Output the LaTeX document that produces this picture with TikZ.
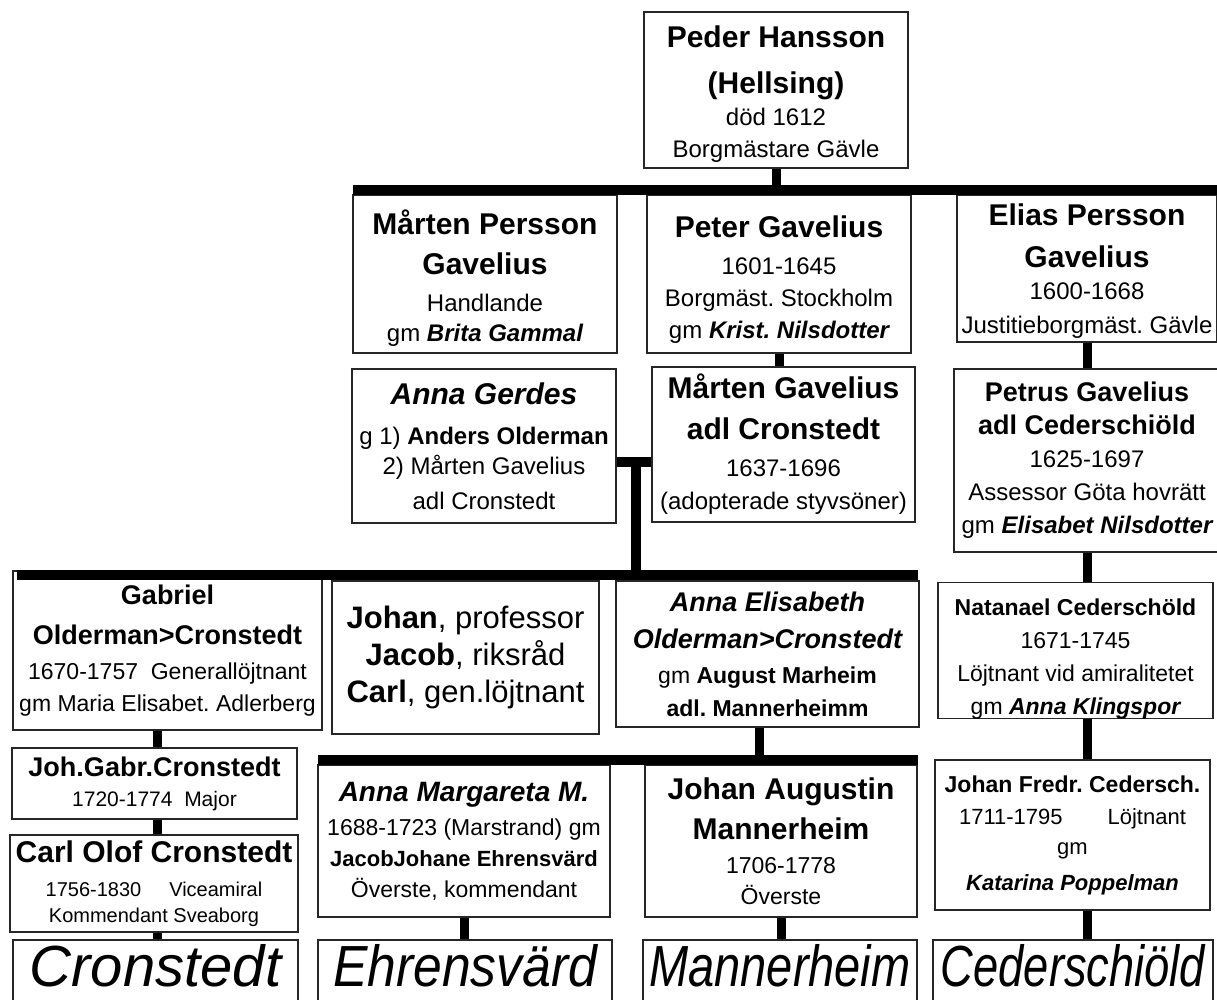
\documentclass[tikz,border=0pt]{standalone}
\usepackage{fontspec}
\setmainfont{Liberation Sans}
\usepackage{graphicx}
\frenchspacing
\newcommand\fsz[2]{\fontsize{#1}{#2}\selectfont}
\newcommand\nmb[2]{{\fontsize{#1}{#1}\selectfont\bfseries #2}}
\newcommand\nmbi[2]{{\fontsize{#1}{#1}\selectfont\bfseries\itshape #2}}
\newcommand\lift[1]{\rule{0pt}{#1pt}}
\newcommand\famBox[7]{\node[famnode,#6,minimum width={#4-#2},minimum height={#5-#3}] (#1) at ({(#2+#4)/2},{(#3+#5)/2}) {#7};}
\tikzset{
  famnode/.style={draw=black!85, line width=1.2pt, fill=white, inner sep=0pt, align=center},
  barline/.style={line width=10pt, black},
  stemline/.style={line width=9pt, black},
  bigname/.style={anchor=base, inner sep=0pt, font=\fontsize{58}{58}\selectfont\itshape},
}
\begin{document}
\begin{tikzpicture}[x=1pt,y=-1pt]
\useasboundingbox (0,0) rectangle (1217,1000);
\clip (0,0) rectangle (1217,1000);
\fill[white] (0,0) rectangle (1217,1000);

% generation 1
\famBox{peder}{644}{12}{908}{168}{font=\fsz{24}{32}}{\nmb{30}{\lift{30}Peder Hansson}\\[14pt]\nmb{30}{(Hellsing)}\\död 1612\\Borgmästare Gävle}

% generation 2
\famBox{marten}{353}{195}{617}{353}{font=\fsz{24}{30}}{\nmb{30}{\lift{33}Mårten Persson}\\[10pt]\nmb{30}{Gavelius}\\[7pt]Handlande\\gm \nmbi{24}{Brita Gammal}}
\famBox{peter}{647}{195}{911}{353}{font=\fsz{24}{32}}{\nmb{30}{\lift{32}Peter Gavelius}\\[5pt]1601-1645\\Borgmäst. Stockholm\\gm \nmbi{24}{Krist. Nilsdotter}}
\famBox{elias}{957}{195}{1217}{342}{font=\fsz{24}{32}}{\nmb{30}{\lift{26}Elias Persson}\\[10pt]\nmb{30}{Gavelius}\\1600-1668\\[2pt]Justitieborgmäst. Gävle}

\famBox{gerdes}{352}{369}{616}{523}{font=\fsz{24}{30}}{\nmbi{30}{Anna Gerdes}\\[10pt]g 1) \textbf{Anders Olderman}\\2) Mårten Gavelius\\[5pt]adl Cronstedt}
\famBox{mgc}{652}{367}{915}{522}{font=\fsz{24}{33}}{\nmb{30}{Mårten Gavelius}\\[8pt]\nmb{30}{adl Cronstedt}\\[4pt]1637-1696\\(adopterade styvsöner)}
\famBox{petrus}{954}{369}{1220}{552}{font=\fsz{24}{33}}{\nmb{27}{Petrus Gavelius}\\\nmb{27}{adl Cederschiöld}\\1625-1697\\Assessor Göta hovrätt\\gm \nmbi{24}{Elisabet Nilsdotter}}

% generation 3
\famBox{gabriel}{13}{571}{322}{730}{font=\fsz{23}{32}}{\nmb{27}{Gabriel}\\[8pt]\nmb{27}{Olderman>Cronstedt}\\[3pt]1670-1757\ \ Generallöjtnant\\gm Maria Elisabet. Adlerberg}
\famBox{johan}{332}{581}{599}{734}{font=\fsz{31}{37}}{\textbf{Johan}, professor\\\textbf{Jacob}, riksråd\\\textbf{Carl}, gen.löjtnant}
\famBox{annaE}{616}{581}{919}{727}{font=\fsz{23}{35}}{\nmbi{27}{Anna Elisabeth}\\[2pt]\nmbi{27}{Olderman>Cronstedt}\\gm \textbf{August Marheim}\\[-2pt]\textbf{adl. Mannerheimm}}
\famBox{natanael}{938}{584}{1213}{717}{font=\fsz{23}{33}}{\nmb{23}{\lift{33}Natanael Cederschöld}\\1671-1745\\Löjtnant vid amiralitetet\\gm \nmbi{23}{Anna Klingspor}}

% generation 4+
\famBox{jgc}{12}{748}{297}{819}{font=\fsz{21}{30}}{\nmb{27}{Joh.Gabr.Cronstedt}\\1720-1774\ \ Major}
\famBox{col}{10}{835}{298}{932}{font=\fsz{20}{26}}{\nmb{30}{Carl Olof Cronstedt}\\[8pt]1756-1830\hspace*{28pt}Viceamiral\\Kommendant Sveaborg}
\famBox{annaM}{318}{765}{610}{917}{font=\fsz{23}{31}}{\nmbi{28}{Anna Margareta M.}\\[3pt]1688-1723 (Marstrand) gm\\\nmb{22}{JacobJohane Ehrensvärd}\\Överste, kommendant}
\famBox{johanA}{645}{765}{917}{917}{font=\fsz{23}{31}}{\nmb{30}{Johan Augustin}\\[9pt]\nmb{30}{Mannerheim}\\[3pt]1706-1778\\Överste}
\famBox{johanF}{935}{760}{1210}{910}{font=\fsz{22}{32}}{\nmb{23}{Johan Fredr. Cedersch.}\\1711-1795\hspace*{45pt}Löjtnant\\[-2pt]gm\\[4pt]\nmbi{22}{Katarina Poppelman}}

% family name boxes
\famBox{cronB}{13}{940}{298}{1030}{}{}
\famBox{ehrB}{318}{940}{612}{1030}{}{}
\famBox{manB}{643}{940}{917}{1030}{}{}
\famBox{cedB}{933}{940}{1213}{1030}{}{}
\node[bigname] (cronT) at (155.5,986) {Cronstedt};
\node[bigname] (ehrT) at (465,986) {\scalebox{0.89}[1]{Ehrensvärd}};
\node[bigname] (manT) at (780,986) {\scalebox{0.81}[1]{Mannerheim}};
\node[bigname] (cedT) at (1073,986) {\scalebox{0.78}[1]{Cederschiöld}};

% connectors
\coordinate (b1L) at (353,190); \coordinate (b1R) at (1217,190);
\coordinate (b2L) at (17,575);  \coordinate (b2R) at (918,575);
\coordinate (b3L) at (318,760); \coordinate (b3R) at (918,760);
\coordinate (tj) at (636,462);
\coordinate (cc) at (157,0);
\coordinate (ae) at (759,0);

\draw[barline] (b1L) -- (b1R);
\draw[stemline] (peder.south) -- (peder.south |- b1L);
\draw[stemline] (peter.south) -- (peter.south |- mgc.north);
\draw[stemline] (elias.south) -- (elias.south |- petrus.north);
\draw[stemline] (petrus.south) -- (petrus.south |- natanael.north);
\draw[stemline] (natanael.south -| petrus.south) -- (johanF.north -| petrus.south);
\draw[stemline] (johanF.south -| petrus.south) -- (cedB.north -| petrus.south);

\draw[barline] (gerdes.east |- tj) -- (mgc.west |- tj);
\draw[barline] (tj) -- (tj |- b2L);
\draw[barline] (b2L) -- (b2R);

\draw[stemline] (gabriel.south -| cc) -- (jgc.north -| cc);
\draw[stemline] (jgc.south -| cc) -- (col.north -| cc);
\draw[stemline] (col.south -| cc) -- (cronB.north -| cc);

\draw[stemline] (annaE.south -| ae) -- (ae |- b3L);
\draw[barline] (b3L) -- (b3R);
\draw[stemline] (annaM.south) -- (annaM.south |- ehrB.north);
\draw[stemline] (johanA.south) -- (johanA.south |- manB.north);
\end{tikzpicture}
\end{document}
